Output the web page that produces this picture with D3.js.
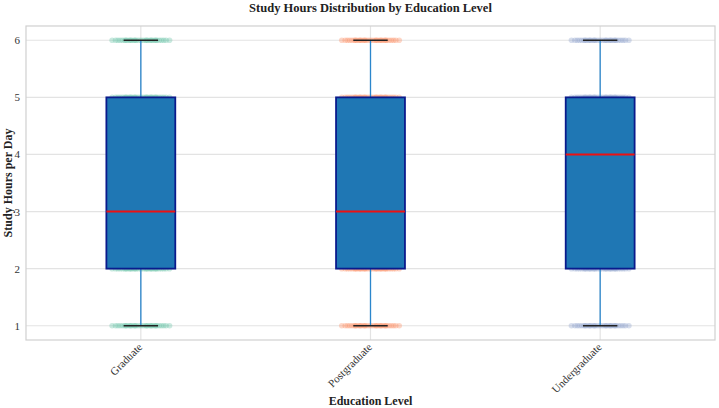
<!DOCTYPE html>
<html><head><meta charset="utf-8">
<script src="https://cdn.jsdelivr.net/npm/d3@7"></script>
<style>body{margin:0;background:#fff}svg{display:block}</style>
</head><body>
<svg id="c" width="719" height="408"></svg>
<script>
const categories = ["Graduate", "Postgraduate", "Undergraduate"];
const whiskerLow = [1, 1, 1];
const q1 = [2, 2, 2];
const median = [3, 3, 4];
const q3 = [5, 5, 5];
const whiskerHigh = [6, 6, 6];
const pointValues = [1, 2, 3, 4, 5, 6];
const jitterOffsets = [-0.125, -0.11, -0.1, -0.09, -0.08, -0.07, -0.065, -0.06, -0.05, -0.045, -0.04, -0.03, -0.025, -0.02, -0.01, 0, 0.01, 0.02, 0.025, 0.03, 0.04, 0.045, 0.05, 0.06, 0.065, 0.07, 0.08, 0.09, 0.1, 0.11, 0.125];
const pointColors = ["#66c2a5", "#fc8d62", "#8da0cb"];
const yTicks = [1, 2, 3, 4, 5, 6];

const svg = d3.select("#c");
const L = 26, R = 715, T = 26, B = 340;
const x = d3.scaleLinear().domain([0.5, 3.5]).range([L, R]);
const y = d3.scaleLinear().domain([0.75, 6.25]).range([B, T]);
const font = "'Liberation Serif','Times New Roman',serif";

// grid
svg.append("g").selectAll("line").data(yTicks).join("line")
  .attr("x1", L).attr("x2", R).attr("y1", d => y(d)).attr("y2", d => y(d))
  .attr("stroke", "#e3e3e3").attr("stroke-width", 1.2);
svg.append("g").selectAll("line").data(categories).join("line")
  .attr("x1", (d, i) => x(i + 1)).attr("x2", (d, i) => x(i + 1)).attr("y1", T).attr("y2", B)
  .attr("stroke", "#e3e3e3").attr("stroke-width", 1.2);

// frame
svg.append("rect").attr("x", L).attr("y", T).attr("width", R - L).attr("height", B - T)
  .attr("fill", "none").attr("stroke", "#d0d0d0").attr("stroke-width", 1.2);

// y axis
const yAxis = d3.axisLeft(y).tickValues(yTicks).tickSize(0).tickPadding(6).tickFormat(d3.format("d"));
const ya = svg.append("g").attr("transform", `translate(${L},0)`).call(yAxis);
ya.select(".domain").remove();
ya.selectAll("text").attr("font-family", font).attr("font-size", 11).attr("fill", "#333");

// x axis
const xAxis = d3.axisBottom(x).tickValues([1, 2, 3]).tickSize(0).tickPadding(0).tickFormat(d => categories[d - 1]);
const xa = svg.append("g").attr("transform", `translate(0,${B})`).call(xAxis);
xa.select(".domain").remove();
xa.selectAll("text").attr("font-family", font).attr("font-size", 11).attr("fill", "#333")
  .attr("text-anchor", "end").attr("x", 0).attr("y", 0).attr("dy", "0.35em")
  .attr("transform", "translate(-1,5) rotate(-45)");

// points
categories.forEach((c, i) => {
  const g = svg.append("g");
  pointValues.forEach(v => {
    jitterOffsets.forEach(o => {
      g.append("circle").attr("cx", x(i + 1 + o)).attr("cy", y(v)).attr("r", 2.8)
        .attr("fill", pointColors[i]).attr("fill-opacity", 0.35);
    });
  });
});

// boxes
const bw = 0.3;
categories.forEach((c, i) => {
  const cx = x(i + 1);
  svg.append("line").attr("x1", cx).attr("x2", cx).attr("y1", y(whiskerHigh[i])).attr("y2", y(q3[i]))
    .attr("stroke", "#2b86cc").attr("stroke-width", 1.3);
  svg.append("line").attr("x1", cx).attr("x2", cx).attr("y1", y(q1[i])).attr("y2", y(whiskerLow[i]))
    .attr("stroke", "#2b86cc").attr("stroke-width", 1.3);
  [whiskerHigh[i], whiskerLow[i]].forEach(v => {
    svg.append("line").attr("x1", x(i + 1 - bw / 4)).attr("x2", x(i + 1 + bw / 4))
      .attr("y1", y(v)).attr("y2", y(v)).attr("stroke", "#222").attr("stroke-width", 1.5);
  });
  svg.append("rect").attr("x", x(i + 1 - bw / 2)).attr("y", y(q3[i]))
    .attr("width", x(i + 1 + bw / 2) - x(i + 1 - bw / 2)).attr("height", y(q1[i]) - y(q3[i]))
    .attr("fill", "#1f77b4").attr("stroke", "#0a1a8c").attr("stroke-width", 1.8);
  svg.append("line").attr("x1", x(i + 1 - bw / 2)).attr("x2", x(i + 1 + bw / 2))
    .attr("y1", y(median[i])).attr("y2", y(median[i])).attr("stroke", "#ee1111").attr("stroke-width", 2);
});

// titles
svg.append("text").attr("x", (L + R) / 2).attr("y", 12).attr("text-anchor", "middle")
  .attr("font-family", font).attr("font-size", 12.5).attr("font-weight", "bold").attr("fill", "#222")
  .text("Study Hours Distribution by Education Level");
svg.append("text").attr("x", (L + R) / 2).attr("y", 405).attr("text-anchor", "middle")
  .attr("font-family", font).attr("font-size", 12).attr("font-weight", "bold").attr("fill", "#222")
  .text("Education Level");
svg.append("text").attr("transform", `translate(12,${(T + B) / 2}) rotate(-90)`).attr("text-anchor", "middle")
  .attr("font-family", font).attr("font-size", 12).attr("font-weight", "bold").attr("fill", "#222")
  .text("Study Hours per Day");
</script>
</body></html>
